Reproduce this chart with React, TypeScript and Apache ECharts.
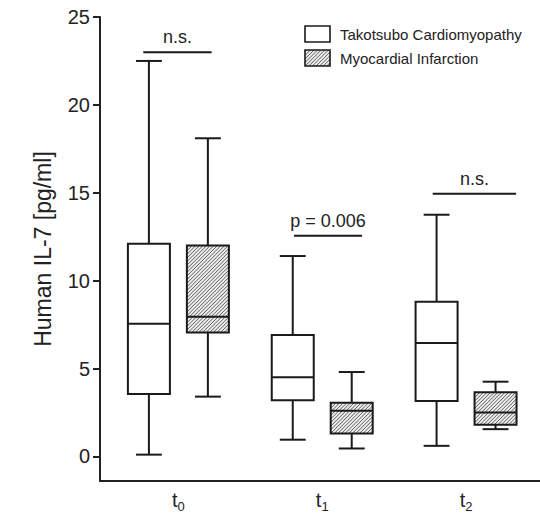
import React, { useEffect, useRef } from "react";
import * as echarts from "echarts";

// Time points (x categories)
const timeBase = "t";
const timeSubs = ["0", "1", "2"];
const timeIndex = [0, 1, 2];

// Box-plot statistics: [min, Q1, median, Q3, max]
const takotsubo = [
  [0.1, 3.55, 7.55, 12.1, 22.5],
  [0.95, 3.2, 4.5, 6.9, 11.4],
  [0.6, 3.15, 6.45, 8.8, 13.75],
];
const myocardial = [
  [3.4, 7.05, 7.95, 12.0, 18.1],
  [0.45, 1.3, 2.6, 3.05, 4.8],
  [1.55, 1.8, 2.5, 3.65, 4.25],
];

// Significance annotations: [xStart, xEnd, y] on the chart's scales, and their labels
const annotationLines = [
  [-0.244, 0.231, 23.0],
  [0.804, 1.277, 12.55],
  [1.768, 2.348, 14.95],
];
const annotationLabels = ["n.s.", "p = 0.006", "n.s."];

// Y ticks
const yTicks = [0, 5, 10, 15, 20, 25];

const seriesNames = ["Takotsubo Cardiomyopathy", "Myocardial Infarction"];

const FONT = "'Liberation Sans', Arial, Helvetica, sans-serif";
const INK = "#1a1a1a";

function hatchLines(x0: number, y0: number, w: number, h: number, step: number) {
  const x1 = x0 + w;
  const y1 = y0 + h;
  const lines: any[] = [];
  for (let c = x0 + y0 + step / 2; c < x1 + y1; c += step) {
    const xa = Math.max(x0, c - y1);
    const xb = Math.min(x1, c - y0);
    if (xb <= xa) continue;
    lines.push({
      type: "line",
      silent: true,
      shape: { x1: xa, y1: c - xa, x2: xb, y2: c - xb },
      style: { stroke: "#3a3a3a", lineWidth: 0.8 },
    });
  }
  return lines;
}

function makeBoxRenderer(offset: number, hatched: boolean) {
  return (params: any, api: any) => {
    const idx = api.value(0);
    const cx = api.coord([idx + offset, 0])[0];
    const yMin = api.coord([idx, api.value(1)])[1];
    const yQ1 = api.coord([idx, api.value(2)])[1];
    const yMed = api.coord([idx, api.value(3)])[1];
    const yQ3 = api.coord([idx, api.value(4)])[1];
    const yMax = api.coord([idx, api.value(5)])[1];
    const boxW = api.size([0.292, 0])[0];
    const capW = api.size([0.18, 0])[0];
    const lw = 2;
    const ls = { stroke: INK, lineWidth: lw, fill: "none" };
    const children: any[] = [
      { type: "line", shape: { x1: cx, y1: yMin, x2: cx, y2: yQ1 }, style: ls },
      { type: "line", shape: { x1: cx, y1: yQ3, x2: cx, y2: yMax }, style: ls },
      { type: "line", shape: { x1: cx - capW / 2, y1: yMin, x2: cx + capW / 2, y2: yMin }, style: ls },
      { type: "line", shape: { x1: cx - capW / 2, y1: yMax, x2: cx + capW / 2, y2: yMax }, style: ls },
    ];
    const bx = cx - boxW / 2;
    const by = yQ3;
    const bh = yQ1 - yQ3;
    children.push({
      type: "rect",
      shape: { x: bx, y: by, width: boxW, height: bh },
      style: { fill: hatched ? "#ececec" : "#ffffff", stroke: "none" },
    });
    if (hatched) {
      children.push(...hatchLines(bx, by, boxW, bh, 3.6));
    }
    children.push({
      type: "rect",
      shape: { x: bx, y: by, width: boxW, height: bh },
      style: { fill: "none", stroke: INK, lineWidth: lw },
    });
    children.push({
      type: "line",
      shape: { x1: bx, y1: yMed, x2: bx + boxW, y2: yMed },
      style: ls,
    });
    return { type: "group", children };
  };
}

export default function App() {
  const ref = useRef<HTMLDivElement>(null);

  useEffect(() => {
    if (!ref.current) return;
    const chart = echarts.init(ref.current, null, { renderer: "svg" });

    const takoData = timeIndex.map((i) => [i, ...takotsubo[i]]);
    const miData = timeIndex.map((i) => [i, ...myocardial[i]]);
    const annData = annotationLines.map((a, i) => [a[0], a[1], a[2], i]);

    const legendBox = (x: number, y: number, hatched: boolean) => {
      const w = 25;
      const h = 16;
      const els: any[] = [
        { type: "rect", shape: { x, y, width: w, height: h }, style: { fill: hatched ? "#ececec" : "#fff" } },
      ];
      if (hatched) els.push(...hatchLines(x, y, w, h, 3.6));
      els.push({ type: "rect", shape: { x, y, width: w, height: h }, style: { fill: "none", stroke: INK, lineWidth: 1.6 } });
      return els;
    };

    const option: any = {
      animation: false,
      backgroundColor: "#ffffff",
      grid: { left: 100, top: 17, width: 440, height: 468 },
      xAxis: {
        type: "value",
        min: -0.545,
        max: 2.514,
        axisLine: { show: true, onZero: false, lineStyle: { color: "#222", width: 2 } },
        axisTick: { show: false },
        splitLine: { show: false },
        axisLabel: {
          customValues: timeIndex,
          margin: 8,
          formatter: (v: number) => `{t|${timeBase}}{s|${timeSubs[Math.round(v)]}}`,
          rich: {
            t: { fontSize: 20, fontFamily: FONT, color: "#222", lineHeight: 22 },
            s: { fontSize: 13, fontFamily: FONT, color: "#222", padding: [13, 0, 0, 0], lineHeight: 22 },
          },
        },
      },
      yAxis: {
        type: "value",
        min: -1.4,
        max: 25,
        name: "Human IL-7 [pg/ml]",
        nameLocation: "middle",
        nameGap: 46,
        nameTextStyle: { fontSize: 23, fontFamily: FONT, color: "#222" },
        axisLine: { show: true, onZero: false, lineStyle: { color: "#222", width: 2 } },
        axisTick: { show: true, customValues: yTicks, length: 7, lineStyle: { color: "#222", width: 2 } },
        axisLabel: { customValues: yTicks, fontSize: 20, fontFamily: FONT, color: "#222", margin: 10 },
        splitLine: { show: false },
      },
      series: [
        {
          name: seriesNames[0],
          type: "custom",
          renderItem: makeBoxRenderer(-0.205, false),
          data: takoData,
          encode: { x: 0, y: [1, 2, 3, 4, 5] },
          clip: false,
        },
        {
          name: seriesNames[1],
          type: "custom",
          renderItem: makeBoxRenderer(0.205, true),
          data: miData,
          encode: { x: 0, y: [1, 2, 3, 4, 5] },
          clip: false,
        },
        {
          name: "annotations",
          type: "custom",
          data: annData,
          encode: { x: [0, 1], y: 2 },
          clip: false,
          renderItem: (params: any, api: any) => {
            const p1 = api.coord([api.value(0), api.value(2)]);
            const p2 = api.coord([api.value(1), api.value(2)]);
            const label = annotationLabels[api.value(3)];
            return {
              type: "group",
              children: [
                {
                  type: "line",
                  shape: { x1: p1[0], y1: p1[1], x2: p2[0], y2: p2[1] },
                  style: { stroke: INK, lineWidth: 2 },
                },
                {
                  type: "text",
                  style: {
                    text: label,
                    x: (p1[0] + p2[0]) / 2,
                    y: p1[1] - 15,
                    align: "center",
                    verticalAlign: "middle",
                    fontSize: 18,
                    fontFamily: FONT,
                    fill: "#222",
                  },
                },
              ],
            };
          },
        },
      ],
      graphic: [
        ...legendBox(305, 26, false),
        ...legendBox(305, 50, true),
        {
          type: "text",
          style: { text: seriesNames[0], x: 340, y: 34, verticalAlign: "middle", fontSize: 15, fontFamily: FONT, fill: "#222" },
        },
        {
          type: "text",
          style: { text: seriesNames[1], x: 340, y: 58, verticalAlign: "middle", fontSize: 15, fontFamily: FONT, fill: "#222" },
        },
      ],
    };

    chart.setOption(option);
    return () => chart.dispose();
  }, []);

  return (
    <div
      ref={ref}
      style={{ position: "fixed", left: 0, top: 0, width: 540, height: 513, background: "#fff" }}
    />
  );
}
